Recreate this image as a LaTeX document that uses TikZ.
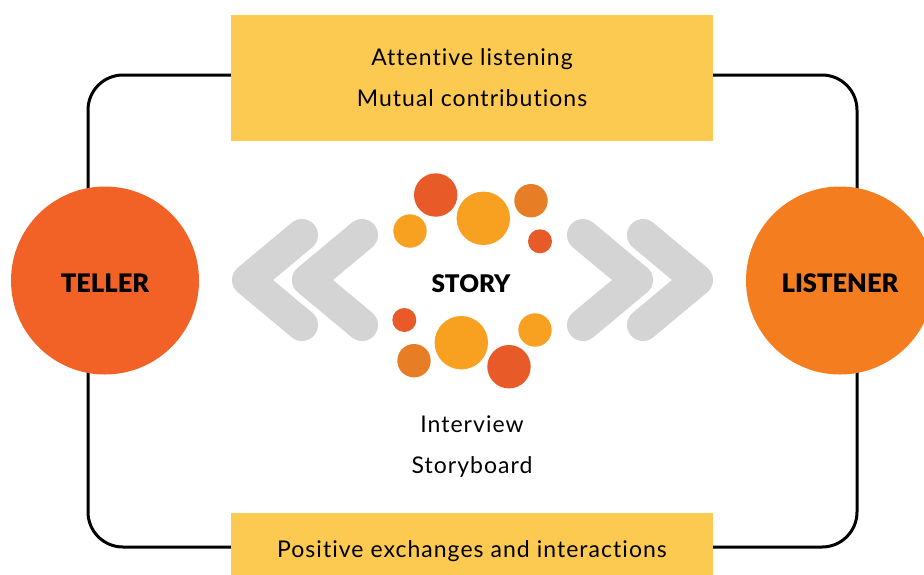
\documentclass[tikz,border=0pt]{standalone}
\usepackage{fontspec}
\setmainfont{Lato}[LetterSpace=4.5, Ligatures=NoCommon]
\newfontfamily\heavyfont{Lato Black}
\definecolor{tellerc}{HTML}{F26125}
\definecolor{listenerc}{HTML}{F47D20}
\definecolor{boxy}{HTML}{FCCA50}
\definecolor{chev}{HTML}{D5D4D5}
\definecolor{dotred}{HTML}{E85A27}
\definecolor{dotorg}{HTML}{F8A020}
\definecolor{dotmid}{HTML}{E77E26}
\tikzset{
  bigcirc/.style={circle, minimum size=188pt, inner sep=0pt, text height=24.5pt, text depth=0pt, font=\fontsize{25.5}{28}\selectfont\heavyfont},
  ybox/.style={rectangle, fill=boxy, inner sep=0pt, font=\fontsize{23}{41}\selectfont, align=center},
  chevron/.style={draw=chev, line width=32pt, line cap=round, line join=round},
  dot/.style={circle, inner sep=0pt, minimum size=#1},
  plain/.style={font=\fontsize{23}{41}\selectfont, align=center, inner sep=0pt},
  frame/.style={draw=black, line width=3pt, rounded corners=35pt}
}
\begin{document}
\begin{tikzpicture}[x=1pt, y=-1pt]
\clip (0,0) rectangle (924,574);
\fill[white] (0,0) rectangle (924,574);
% frame loop
\coordinate (fa) at (88,75);
\coordinate (fb) at (857,547);
\draw[frame] (fa) rectangle (fb);
% boxes
\node[ybox, minimum width=482pt, minimum height=126pt] (topbox) at (472,78) {Attentive listening\\Mutual contributions};
\node[ybox, minimum width=482pt, minimum height=76pt] (botbox) at (472,551) {Positive exchanges and interactions};
% main circles
\node[bigcirc, fill=tellerc] (teller) at (105,280.5) {TELLER};
\node[bigcirc, fill=listenerc] (listener) at (840,280.5) {LISTENER};
% chevrons
\coordinate (l1a) at (302,235); \coordinate (l1t) at (248,280); \coordinate (l1b) at (302,325);
\coordinate (l2a) at (362,235); \coordinate (l2t) at (308,280); \coordinate (l2b) at (362,325);
\coordinate (r1a) at (643,235); \coordinate (r1t) at (697,280); \coordinate (r1b) at (643,325);
\coordinate (r2a) at (583,235); \coordinate (r2t) at (637,280); \coordinate (r2b) at (583,325);
\draw[chevron] (l1a) -- (l1t) -- (l1b);
\draw[chevron] (l2a) -- (l2t) -- (l2b);
\draw[chevron] (r1a) -- (r1t) -- (r1b);
\draw[chevron] (r2a) -- (r2t) -- (r2b);
% story dots
\node[dot=43.4pt, fill=dotred] (d1) at (435.7,195) {};
\node[dot=53.4pt, fill=dotorg] (d2) at (483.3,218.3) {};
\node[dot=33.4pt, fill=dotmid] (d3) at (531,200.7) {};
\node[dot=33.4pt, fill=dotorg] (d4) at (410,231) {};
\node[dot=24pt, fill=dotred] (d5) at (540,241.3) {};
\node[dot=24pt, fill=dotred] (d6) at (404.3,320) {};
\node[dot=33.4pt, fill=dotmid] (d7) at (414,360.7) {};
\node[dot=53.4pt, fill=dotorg] (d8) at (461.3,342.7) {};
\node[dot=33.4pt, fill=dotorg] (d9) at (535,330) {};
\node[dot=43.4pt, fill=dotred] (d10) at (509,366.7) {};
\node[font=\fontsize{24.3}{28}\selectfont\heavyfont, inner sep=0pt, text depth=0pt] (story) at (471,284) {STORY};
\node[plain] (tools) at (472,446.5) {Interview\\Storyboard};
\end{tikzpicture}
\end{document}
